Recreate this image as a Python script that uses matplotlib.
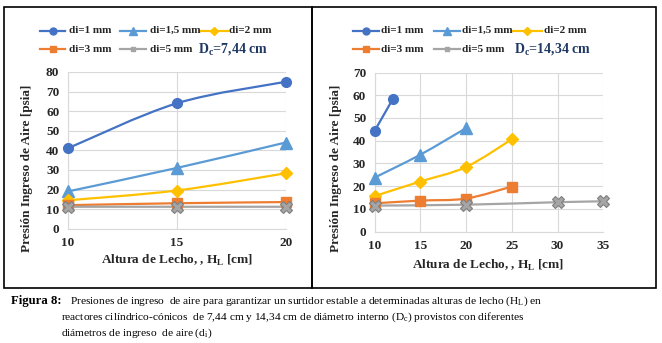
import numpy as np
import matplotlib
matplotlib.use("Agg")
import matplotlib.pyplot as plt
from matplotlib.path import Path
from matplotlib.patches import PathPatch, Rectangle
from matplotlib.lines import Line2D

plt.rcParams['font.family'] = ['Liberation Serif', 'DejaVu Serif']
plt.rcParams['mathtext.fontset'] = 'custom'
plt.rcParams['mathtext.rm'] = 'Liberation Serif'
plt.rcParams['mathtext.bf'] = 'Liberation Serif:bold'

# ---------------- data ----------------
labels = ["di=1 mm", "di=1,5 mm", "di=2 mm", "di=3 mm", "di=5 mm"]
colors = ["#4472C4", "#5B9BD5", "#FFC000", "#ED7D31", "#A5A5A5"]
markers = ["o", "^", "D", "s", "X"]

# Left chart, Dc = 7,44 cm
left_x = [10, 15, 20]
left_y = [
    [41, 64, 75],
    [19, 31, 44],
    [14.5, 19.5, 28.3],
    [12, 13, 13.6],
    [11.2, 11.2, 11.2],
]
left_ticks_x = [10, 15, 20]
left_ticks_y = [0, 10, 20, 30, 40, 50, 60, 70, 80]

# Right chart, Dc = 14,34 cm
right_x = [
    [10, 12],
    [10, 15, 20],
    [10, 15, 20, 25],
    [10, 15, 20, 25],
    [10, 20, 30, 35],
]
right_y = [
    [44.2, 58.3],
    [23.7, 33.8, 45.5],
    [15.6, 22.0, 28.4, 40.6],
    [12.4, 13.6, 14.5, 19.8],
    [11.4, 11.8, 12.9, 13.3],
]
right_ticks_x = [10, 15, 20, 25, 30, 35]
right_ticks_y = [0, 10, 20, 30, 40, 50, 60, 70]

dc_labels = ["7,44", "14,34"]
ylabel_text = "Presión Ingreso de Aire [psia]"
xlabel_text = r"Altura de Lecho, , H$_\mathregular{L}$ [cm]"

W, H = 662, 343
fig = plt.figure(figsize=(W / 100, H / 100), dpi=100)


def fx(px):
    return px / W


def fy(py):
    return 1 - py / H


def smooth_path(xs, ys):
    """Excel-style smoothed line via cubic Bezier path segments."""
    pts = np.column_stack([xs, ys]).astype(float)
    n = len(pts)
    if n < 3:
        return Path(pts)
    verts = [pts[0]]
    codes = [Path.MOVETO]
    for i in range(n - 1):
        p0 = pts[i - 1] if i > 0 else pts[i]
        p1 = pts[i]
        p2 = pts[i + 1]
        p3 = pts[i + 2] if i + 2 < n else pts[i + 1]
        c1 = p1 + (p2 - p0) / 6.0
        c2 = p2 - (p3 - p1) / 6.0
        verts += [c1, c2, p2]
        codes += [Path.CURVE4] * 3
    return Path(verts, codes)


msizes = [7, 8, 6, 6.5, 8]


def draw_series(ax, xs, ys, i):
    c = colors[i]
    patch = PathPatch(smooth_path(xs, ys), facecolor='none', edgecolor=c,
                      lw=1.6, transform=ax.transData, zorder=3 + i * 0.1)
    ax.add_patch(patch)
    if markers[i] == "X":
        ax.plot(xs, ys, linestyle='none', marker='X', ms=msizes[i],
                mfc="#A5A5A5", mec="#7F7F7F", mew=0.8, zorder=4 + i * 0.1,
                clip_on=False)
    else:
        ax.plot(xs, ys, linestyle='none', marker=markers[i], ms=msizes[i],
                mfc=c, mec=c, zorder=4 + i * 0.1, clip_on=False)


def style_axes(ax, xt, yt):
    ax.set_xticks(xt)
    ax.set_yticks(yt)
    ax.set_xlim(xt[0], xt[-1])
    ax.set_ylim(yt[0], yt[-1])
    ax.grid(True, color="#D9D9D9", lw=0.8, zorder=0)
    ax.set_axisbelow(True)
    for s in ["top", "right"]:
        ax.spines[s].set_visible(False)
    for s in ["left", "bottom"]:
        ax.spines[s].set_color("#D9D9D9")
        ax.spines[s].set_linewidth(0.8)
    ax.tick_params(length=0, labelsize=9.5, pad=6)
    for lab in ax.get_xticklabels() + ax.get_yticklabels():
        lab.set_fontweight('bold')
        lab.set_color("#262626")


# ---------------- left chart ----------------
axL = fig.add_axes([fx(67.7), fy(228.7), fx(285.7) - fx(67.7), fy(72) - fy(228.7)])
style_axes(axL, left_ticks_x, left_ticks_y)
for i in range(5):
    draw_series(axL, left_x, left_y[i], i)

# ---------------- right chart ----------------
axR = fig.add_axes([fx(374.5), fy(231.5), fx(603.3) - fx(374.5), fy(72.5) - fy(231.5)])
style_axes(axR, right_ticks_x, right_ticks_y)
for i in range(5):
    draw_series(axR, right_x[i], right_y[i], i)

# axis labels
fig.text(fx(27), fy(168), ylabel_text, rotation=90, ha='center', va='center',
         fontsize=9.5, fontweight='bold', color="#262626")
fig.text(fx(336), fy(168), ylabel_text, rotation=90, ha='center', va='center',
         fontsize=9.5, fontweight='bold', color="#262626")
fig.text(fx(177), fy(260.5), xlabel_text, ha='center', va='center',
         fontsize=9.5, fontweight='bold', color="#262626")
fig.text(fx(488), fy(265.5), xlabel_text, ha='center', va='center',
         fontsize=9.5, fontweight='bold', color="#262626")

# ---------------- legends ----------------
leg_sizes = [5, 6, 4.5, 5, 3.5]


def draw_legend(entries, dc_pos, dc_txt):
    for i, (x0, x1, tx, y) in enumerate(entries):
        c = colors[i]
        fig.add_artist(Line2D([fx(x0), fx(x1)], [fy(y), fy(y)], color=c, lw=1.6,
                              transform=fig.transFigure))
        mk = 's' if markers[i] == 'X' else markers[i]
        fig.add_artist(Line2D([fx((x0 + x1) / 2)], [fy(y)], marker=mk,
                              ms=leg_sizes[i], mfc=c, mec=c, linestyle='none',
                              transform=fig.transFigure))
        fig.text(fx(tx), fy(y), labels[i], ha='left', va='center', fontsize=8,
                 fontweight='bold', color="#262626")
    fig.text(fx(dc_pos[0]), fy(dc_pos[1]),
             r"D$_\mathregular{c}$=" + dc_txt + " cm", ha='left', va='center',
             fontsize=10, fontweight='bold', color="#1F3864")


draw_legend([(40, 65, 69, 30.7), (120, 146, 150, 30.7), (200, 228, 229, 30.7),
             (40, 65, 69, 49.3), (120, 146, 150, 49.3)],
            (198, 49.3), dc_labels[0])
draw_legend([(353, 379, 381, 30.7), (434, 460, 462, 30.7), (512, 542, 543.5, 30.7),
             (353, 379, 381, 49.3), (434, 460, 462, 49.3)],
            (514, 49.3), dc_labels[1])

# ---------------- panel borders ----------------
fig.add_artist(Rectangle((fx(4), fy(288)), fx(312) - fx(4), fy(7) - fy(288),
                         fill=False, ec='black', lw=1.2, transform=fig.transFigure))
fig.add_artist(Rectangle((fx(312), fy(288)), fx(656) - fx(312), fy(7) - fy(288),
                         fill=False, ec='black', lw=1.2, transform=fig.transFigure))

# ---------------- caption ----------------
cap_fs = 8.2
fig.text(fx(11), fy(301), "Figura 8:", ha='left', va='center', fontsize=9.2,
         fontweight='bold')
fig.text(fx(70), fy(301),
         r"Presiones de ingreso  de aire para garantizar un surtidor estable a determinadas alturas de lecho (H$_\mathregular{L}$) en",
         ha='left', va='center', fontsize=cap_fs)
fig.text(fx(61), fy(317),
         r"reactores cilíndrico-cónicos  de 7,44 cm y 14,34 cm de diámetro interno (D$_\mathregular{c}$) provistos con diferentes",
         ha='left', va='center', fontsize=cap_fs)
fig.text(fx(61), fy(333),
         r"diámetros de ingreso  de aire (d$_\mathregular{i}$)",
         ha='left', va='center', fontsize=cap_fs)

fig.savefig("out.png", dpi=100)
